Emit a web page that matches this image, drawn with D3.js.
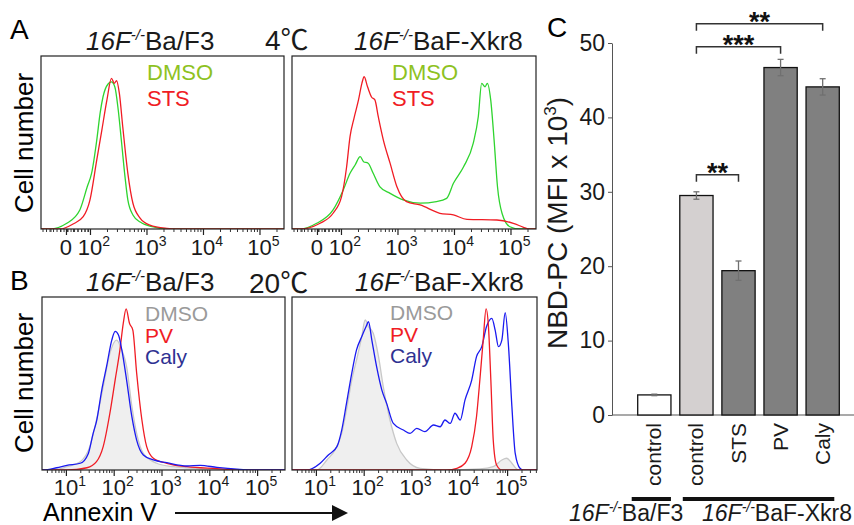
<!DOCTYPE html>
<html>
<head>
<meta charset="utf-8">
<script src="https://cdn.jsdelivr.net/npm/d3@7"></script>
<style>
body { margin: 0; background: #fff; }
svg { font-family: Arial, "Liberation Sans", sans-serif; }
</style>
</head>
<body>
<div id="vis-container"></div>
<script>
// ---- histogram data: [axis position (decades), % of panel height] ----
var aLeftDMSO = [[1.29,0],[1.59,3.3],[1.82,11],[1.95,24.3],[2.03,32.4],[2.12,51.4],[2.18,67.1],[2.23,76.3],[2.32,83.8],[2.38,85],[2.44,82.1],[2.50,68.8],[2.56,49.7],[2.62,30.1],[2.67,16.8],[2.76,8.1],[2.89,4],[3.12,1.2],[3.36,0]];
var aLeftSTS  = [[1.47,0],[1.70,2.9],[1.88,7.1],[2.00,16.8],[2.12,39.9],[2.21,57.2],[2.30,74.6],[2.38,87.1],[2.43,84.2],[2.47,85.7],[2.52,78.4],[2.58,59.1],[2.67,32.2],[2.76,14.9],[2.89,6.2],[3.06,2.3],[3.36,0.4],[3.54,0]];
var aRightDMSO = [[1.28,0],[1.57,3.3],[1.86,11],[2.04,22.5],[2.16,32.2],[2.25,37],[2.34,41.8],[2.40,38.9],[2.48,38],[2.57,32.2],[2.69,24.4],[2.87,20.6],[3.10,16.8],[3.40,14.9],[3.69,15.8],[3.87,17.7],[3.99,26.4],[4.17,36],[4.34,49.5],[4.43,64.9],[4.49,84.2],[4.55,82.2],[4.59,84.2],[4.65,74.6],[4.71,51.4],[4.77,24.4],[4.85,9.1],[4.99,1.3],[5.17,0]];
var aRightSTS  = [[1.28,0],[1.63,3.3],[1.86,9.1],[2.01,18.7],[2.10,36],[2.16,53.4],[2.23,64],[2.31,74.6],[2.37,84.2],[2.41,88],[2.47,82.2],[2.54,76.3],[2.60,74.6],[2.66,64.9],[2.75,51.4],[2.87,37.9],[2.99,24.4],[3.16,15.8],[3.40,13.9],[3.75,9.1],[3.99,8.1],[4.23,5.6],[4.76,5.2],[5.05,3.3],[5.23,1],[5.32,0]];
var bLeftDMSO = [[0.73,0],[1.02,1.9],[1.30,4.8],[1.50,13.5],[1.64,28.9],[1.78,48.1],[1.92,67.4],[2.06,75.1],[2.17,69.4],[2.27,59.7],[2.38,36.8],[2.48,21.2],[2.62,9.6],[2.90,3.9],[3.25,1.9],[3.81,0.8],[4.50,0]];
var bLeftPV   = [[1.02,0],[1.44,1.3],[1.64,4.8],[1.78,13.5],[1.92,32.8],[2.03,52],[2.13,69.4],[2.20,84.8],[2.26,93.1],[2.33,84.8],[2.40,80.9],[2.48,56.1],[2.59,28.9],[2.69,13.5],[2.83,6.8],[3.11,3.9],[3.53,1.9],[4.16,0.8],[4.64,0]];
var bLeftCaly = [[0.53,0],[0.81,1.3],[1.02,2.7],[1.30,3.9],[1.47,9.6],[1.57,21.2],[1.64,28.1],[1.75,46.2],[1.85,59.7],[1.96,75.1],[2.03,80.1],[2.10,78],[2.17,69.4],[2.27,52],[2.38,30.8],[2.48,17.3],[2.62,8.7],[2.83,5.8],[3.11,4.2],[3.53,2.3],[3.81,2.7],[4.16,1.5],[4.64,0.4],[4.91,0]];
var bRightDMSO = [[1.02,0],[1.23,5.8],[1.40,11.6],[1.54,21.2],[1.64,34.7],[1.75,52],[1.85,63.6],[1.96,77.1],[2.03,86.7],[2.10,82.9],[2.20,79],[2.31,65.5],[2.41,48.1],[2.55,28.9],[2.69,15.4],[2.90,5.8],[3.18,1],[3.74,0],[4.43,0.6],[4.71,1.9],[4.89,5.8],[4.99,6.8],[5.10,3.9],[5.20,0.6],[5.27,0]];
var bRightPV   = [[3.74,0],[3.95,1],[4.12,3.9],[4.26,13.5],[4.36,30.8],[4.43,52],[4.50,75.1],[4.56,93.1],[4.61,82.9],[4.66,52],[4.71,17.3],[4.78,2.9],[4.89,0]];
var bRightCaly = [[0.81,0],[1.09,3.9],[1.26,8.7],[1.44,13.5],[1.54,23.1],[1.64,38.5],[1.75,55.9],[1.85,69.4],[1.96,77.1],[2.05,82.9],[2.10,85.7],[2.17,75.1],[2.27,59.7],[2.38,46.2],[2.48,38.5],[2.62,26.9],[2.83,23.1],[2.97,21.2],[3.11,24.1],[3.28,22.2],[3.46,26],[3.60,25],[3.70,28.9],[3.81,26.9],[3.91,32.8],[4.02,28.9],[4.12,40.5],[4.26,52],[4.36,65.5],[4.47,71.3],[4.57,82.9],[4.68,87.7],[4.75,80.9],[4.82,71.3],[4.89,75.1],[4.96,90.9],[5.03,71.3],[5.10,36.8],[5.17,9.6],[5.27,1],[5.34,0]];

// ---- axis ticks ----
var aTickVals = [1.575, 2, 3, 4, 5];
var aTickLabels = [["0",""],["10","2"],["10","3"],["10","4"],["10","5"]];
var bTickVals = [1, 2, 3, 4, 5];
var bTickLabels = [["10","1"],["10","2"],["10","3"],["10","4"],["10","5"]];

// ---- panel C ----
var barCats = ["control", "control", "STS", "PV", "Caly"];
var barVals = [2.7, 29.5, 19.4, 46.7, 44.1];
var barErrs = [0.1, 0.5, 1.3, 1.1, 1.1];
var cTicks = [0, 10, 20, 30, 40, 50];
var sigFrom = [1, 1, 1];
var sigTo = [2, 3, 4];
var sigLabels = ["**", "***", "**"];
var sigLevels = [32.3, 49.5, 52.6];

var svg = d3.select("#vis-container").append("svg")
    .attr("width", 854).attr("height", 525);

var GREEN = "#2fd42f", RED = "#f01c24", BLUE = "#1a1af0";

// minor ticks
var logMinor = [];
for (var k = 0; k <= 5; k++) for (var m = 2; m <= 9; m++) logMinor.push(k + Math.log10(m));
var linMinor = d3.range(1.16, 1.99, 0.062);

function drawHist(box, x, series, legend, legendSize, titleX, titleLabel, tickVals, tickLabels, minors, labY, id) {
    var g = svg.append("g").attr("transform", "translate(" + box.x + "," + box.y + ")");
    var y = d3.scaleLinear().domain([0, 100]).range([box.h, 0]);

    g.append("clipPath").attr("id", id).append("rect")
        .attr("width", box.w).attr("height", box.h);

    var line = d3.line().curve(d3.curveMonotoneX)
        .x(function(d) { return x(d[0]); }).y(function(d) { return y(d[1]); });
    var area = d3.area().curve(d3.curveMonotoneX)
        .x(function(d) { return x(d[0]); }).y0(box.h).y1(function(d) { return y(d[1]); });
    var dom = x.domain();

    series.forEach(function(s) {
        var pts = [[dom[0], 0]].concat(s.data, [[dom[1], 0]]);
        if (s.fill) {
            g.append("path").datum(pts).attr("clip-path", "url(#" + id + ")")
                .attr("d", area).attr("fill", s.fill).attr("stroke", "none");
        }
        g.append("path").datum(pts).attr("clip-path", "url(#" + id + ")")
            .attr("d", line).attr("fill", "none")
            .attr("stroke", s.color).attr("stroke-width", 1.3);
    });

    g.append("rect").attr("width", box.w).attr("height", box.h)
        .attr("fill", "none").attr("stroke", "#222").attr("stroke-width", 1.2);

    // minor ticks
    g.append("g").attr("transform", "translate(0," + box.h + ")")
        .call(d3.axisBottom(x).tickValues(minors.filter(function(v) { return v > dom[0] && v < dom[1]; }))
            .tickSize(3).tickFormat(""))
        .call(function(a) { a.select(".domain").remove(); a.selectAll("line").attr("stroke", "#333"); });
    // major ticks
    g.append("g").attr("transform", "translate(0," + box.h + ")")
        .call(d3.axisBottom(x).tickValues(tickVals).tickSize(6).tickFormat(""))
        .call(function(a) { a.select(".domain").remove(); a.selectAll("line").attr("stroke", "#222").attr("stroke-width", 1.2); });

    tickVals.forEach(function(v, i) {
        var lab = tickLabels[i];
        var t = g.append("text").attr("y", box.h + labY).attr("font-size", 22).attr("fill", "#1a1a1a");
        if (lab[1] === "") {
            t.attr("x", x(v)).attr("text-anchor", "middle").text(lab[0]);
        } else {
            t.attr("x", x(v) - 12.2);
            t.append("tspan").text(lab[0]);
            t.append("tspan").attr("font-size", 14).attr("dy", -9).text(lab[1]);
        }
    });

    legend.forEach(function(l) {
        g.append("text").attr("x", l.x).attr("y", l.y).attr("font-size", legendSize)
            .attr("fill", l.color).text(l.text);
    });

    // title
    var tt = svg.append("text").attr("x", titleX).attr("y", box.y - 6)
        .attr("font-size", 26).attr("fill", "#1a1a1a");
    tt.append("tspan").attr("font-style", "italic").text("16F");
    tt.append("tspan").attr("font-style", "italic").attr("font-size", 15).attr("dy", -10).text("-/-");
    tt.append("tspan").attr("dy", 10).text(titleLabel);
}

var boxAL = {x: 41, y: 56, w: 243, h: 173};
var boxAR = {x: 292, y: 56, w: 244, h: 173};
var boxBL = {x: 42, y: 297, w: 243, h: 173};
var boxBR = {x: 292, y: 297, w: 245, h: 173};

function aScale(w) { var d0 = 1.133; return d3.scaleLinear().domain([d0, d0 + w / 56.5]).range([0, w]); }
function bScale(w) { var d0 = 0.5; return d3.scaleLinear().domain([d0, d0 + w / 47.8]).range([0, w]); }

drawHist(boxAL, aScale(boxAL.w),
    [{data: aLeftDMSO, color: GREEN}, {data: aLeftSTS, color: RED}],
    [{text: "DMSO", x: 106, y: 24, color: "#8ec21f"}, {text: "STS", x: 106, y: 50, color: RED}], 22,
    86, "Ba/F3", aTickVals, aTickLabels, logMinor.concat(linMinor), 26, "clipAL");
drawHist(boxAR, aScale(boxAR.w),
    [{data: aRightDMSO, color: GREEN}, {data: aRightSTS, color: RED}],
    [{text: "DMSO", x: 100, y: 24, color: "#8ec21f"}, {text: "STS", x: 100, y: 50, color: RED}], 22,
    354, "BaF-Xkr8", aTickVals, aTickLabels, logMinor.concat(linMinor), 26, "clipAR");
drawHist(boxBL, bScale(boxBL.w),
    [{data: bLeftDMSO, color: "#c8c8c8", fill: "#efefef"}, {data: bLeftPV, color: RED}, {data: bLeftCaly, color: BLUE}],
    [{text: "DMSO", x: 103, y: 24, color: "#9a9a9a"}, {text: "PV", x: 103, y: 46, color: RED}, {text: "Caly", x: 103, y: 67, color: "#2e3192"}], 21,
    86, "Ba/F3", bTickVals, bTickLabels, logMinor, 25, "clipBL");
drawHist(boxBR, bScale(boxBR.w),
    [{data: bRightDMSO, color: "#c8c8c8", fill: "#efefef"}, {data: bRightCaly, color: BLUE}, {data: bRightPV, color: RED}],
    [{text: "DMSO", x: 98, y: 23, color: "#9a9a9a"}, {text: "PV", x: 98, y: 45, color: RED}, {text: "Caly", x: 98, y: 66, color: "#2e3192"}], 21,
    355, "BaF-Xkr8", bTickVals, bTickLabels, logMinor, 25, "clipBR");

// panel letters, temperatures, axis labels
svg.append("text").attr("x", 10).attr("y", 39).attr("font-size", 28).text("A");
svg.append("text").attr("x", 10).attr("y", 290).attr("font-size", 28).text("B");
svg.append("text").attr("x", 547).attr("y", 37).attr("font-size", 28).text("C");
function tempLabel(x, y, num) {
    var t = svg.append("text").attr("x", x).attr("y", y).attr("font-size", 28).attr("fill", "#1a1a1a");
    t.append("tspan").text(num);
    t.append("tspan").attr("font-family", "'Noto Sans CJK JP', 'Noto Sans CJK SC', sans-serif").text("\u2103");
}
tempLabel(265, 50, "4");
tempLabel(249, 293, "20");
svg.append("text").attr("transform", "translate(33,143) rotate(-90)")
    .attr("text-anchor", "middle").attr("font-size", 26).text("Cell number");
svg.append("text").attr("transform", "translate(33,383) rotate(-90)")
    .attr("text-anchor", "middle").attr("font-size", 26).text("Cell number");
svg.append("text").attr("x", 43).attr("y", 521).attr("font-size", 25).text("Annexin V");
svg.append("line").attr("x1", 175).attr("x2", 334).attr("y1", 513).attr("y2", 513)
    .attr("stroke", "#111").attr("stroke-width", 2);
svg.append("path").attr("d", "M332,505 L348,513 L332,521 Z").attr("fill", "#111");

// ---- panel C: bar chart ----
var yC = d3.scaleLinear().domain([0, 50]).range([415, 43]);
var xC = d3.scaleBand().domain(d3.range(barVals.length)).range([633.5, 843.5])
    .paddingInner(0.21).paddingOuter(0.1);
var barFill = function(i) { return i === 0 ? "#ffffff" : (i === 1 ? "#d4d0d0" : "#808080"); };

svg.append("g").attr("transform", "translate(612,0)")
    .call(d3.axisLeft(yC).tickValues(cTicks).tickSize(4).tickSizeOuter(0))
    .call(function(a) {
        a.select(".domain").attr("stroke", "#555");
        a.selectAll("line").attr("stroke", "#555");
        a.selectAll("text").attr("font-size", 23).attr("fill", "#1a1a1a")
            .attr("font-family", "Arial, 'Liberation Sans', sans-serif").attr("x", -7);
    });
svg.append("line").attr("x1", 612).attr("x2", 854).attr("y1", yC(0)).attr("y2", yC(0))
    .attr("stroke", "#555").attr("stroke-width", 1.2);

svg.selectAll(".bar").data(barVals).enter().append("rect")
    .attr("class", "bar")
    .attr("x", function(d, i) { return xC(i); })
    .attr("width", xC.bandwidth())
    .attr("y", function(d) { return yC(d); })
    .attr("height", function(d) { return yC(0) - yC(d); })
    .attr("fill", function(d, i) { return barFill(i); })
    .attr("stroke", "#111").attr("stroke-width", 1.3);

barVals.forEach(function(v, i) {
    var cx = xC(i) + xC.bandwidth() / 2, e = barErrs[i];
    var eg = svg.append("g").attr("stroke", "#707070").attr("stroke-width", 1.3);
    eg.append("line").attr("x1", cx).attr("x2", cx).attr("y1", yC(v - e)).attr("y2", yC(v + e));
    eg.append("line").attr("x1", cx - 3).attr("x2", cx + 3).attr("y1", yC(v - e)).attr("y2", yC(v - e));
    eg.append("line").attr("x1", cx - 3).attr("x2", cx + 3).attr("y1", yC(v + e)).attr("y2", yC(v + e));
    svg.append("text")
        .attr("transform", "translate(" + (cx + 7) + "," + 423 + ") rotate(-90)")
        .attr("text-anchor", "end").attr("font-size", 21).attr("fill", "#1a1a1a")
        .text(barCats[i]);
});

sigLabels.forEach(function(lab, j) {
    var x1 = xC(sigFrom[j]) + xC.bandwidth() / 2, x2 = xC(sigTo[j]) + xC.bandwidth() / 2;
    var yy = yC(sigLevels[j]);
    svg.append("path").attr("d", "M" + x1 + "," + (yy + 7) + "V" + yy + "H" + x2 + "V" + (yy + 7))
        .attr("fill", "none").attr("stroke", "#333").attr("stroke-width", 1.5);
    svg.append("text").attr("x", (x1 + x2) / 2).attr("y", yy + 7)
        .attr("text-anchor", "middle").attr("font-size", 27).attr("font-weight", "bold")
        .attr("fill", "#111").text(lab);
});

// y label
var yl = svg.append("text").attr("transform", "translate(567,223) rotate(-90)")
    .attr("text-anchor", "middle").attr("font-size", 28).attr("fill", "#1a1a1a");
yl.append("tspan").text("NBD-PC (MFI x 10");
yl.append("tspan").attr("font-size", 17).attr("dy", -11).text("3");
yl.append("tspan").attr("dy", 11).text(")");

// group labels beneath
var gl = [[xC(0) - 6, xC(0) + xC.bandwidth()], [xC(1) + 3, xC(4) + xC.bandwidth() - 5]];
gl.forEach(function(p) {
    svg.append("line").attr("x1", p[0]).attr("x2", p[1]).attr("y1", 499).attr("y2", 499)
        .attr("stroke", "#111").attr("stroke-width", 4);
});
[[569, "Ba/F3"], [702, "BaF-Xkr8"]].forEach(function(p) {
    var t = svg.append("text").attr("x", p[0]).attr("y", 521).attr("font-size", 23).attr("fill", "#1a1a1a");
    t.append("tspan").attr("font-style", "italic").text("16F");
    t.append("tspan").attr("font-style", "italic").attr("font-size", 14).attr("dy", -9).text("-/-");
    t.append("tspan").attr("dy", 9).text(p[1]);
});
</script>
</body>
</html>
